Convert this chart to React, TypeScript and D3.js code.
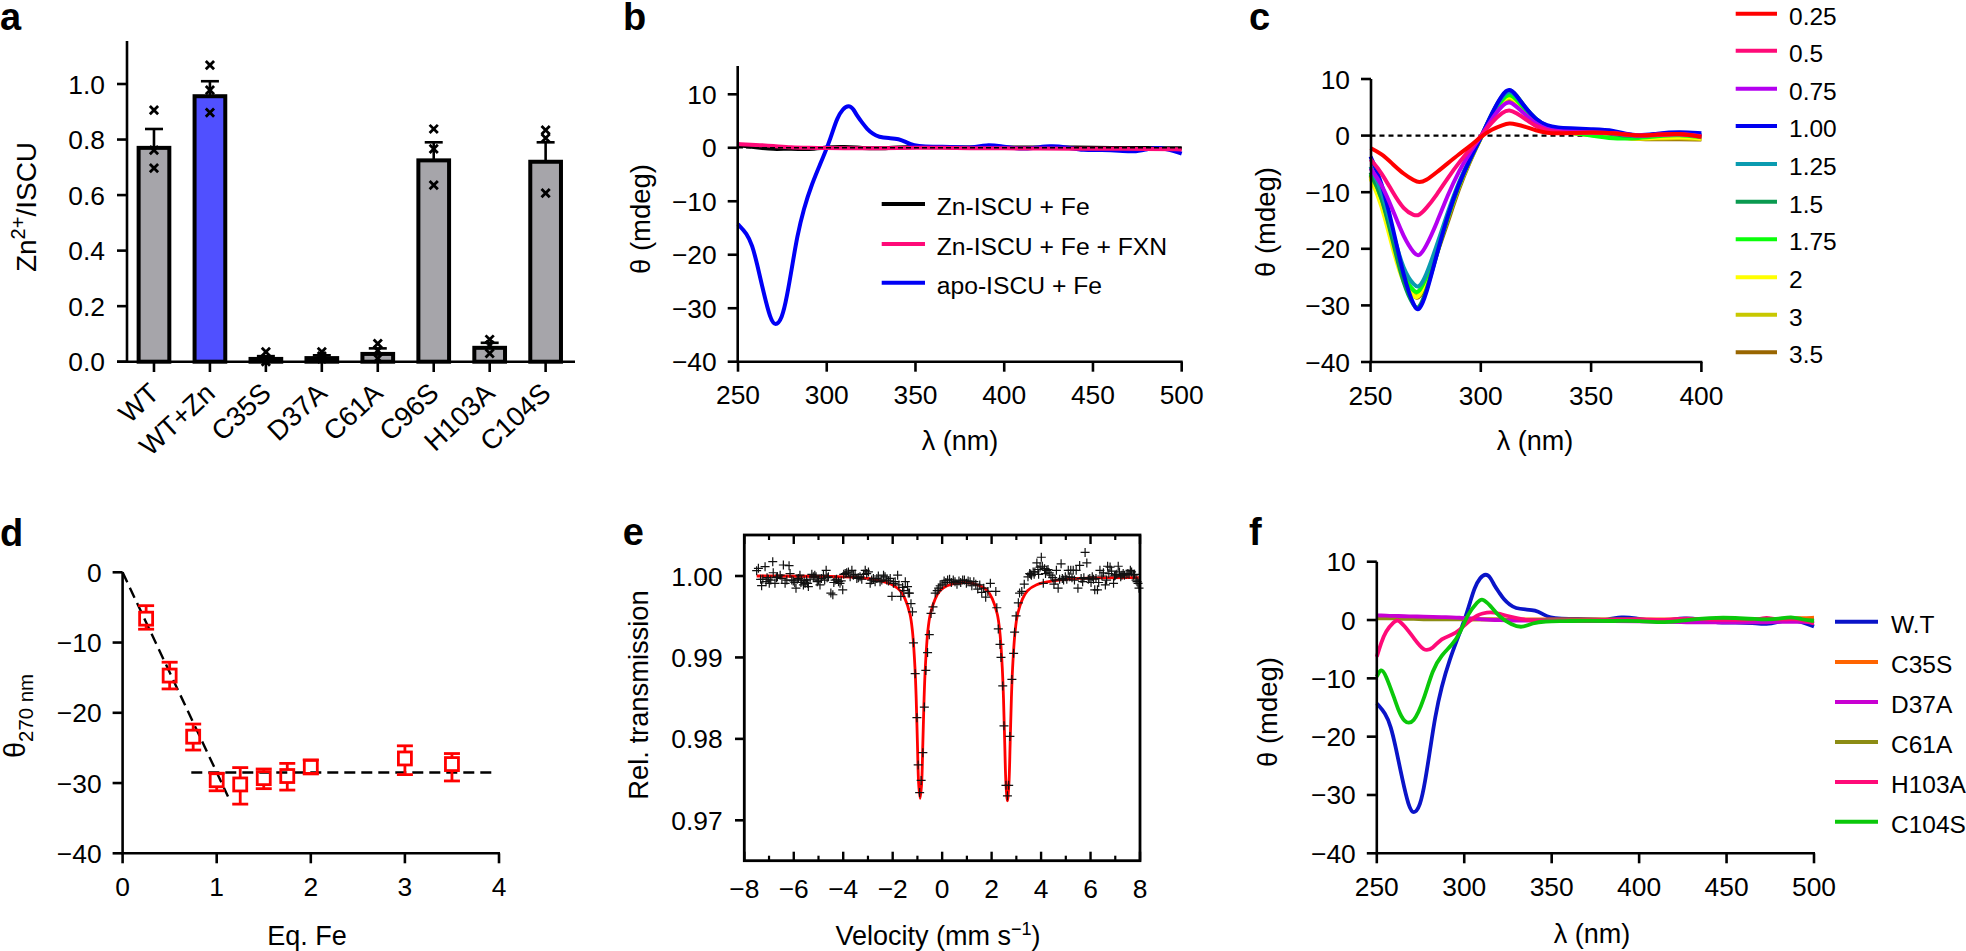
import React from "react";
import * as d3 from "d3";

// ---------- panel a ----------
const mutants = ["WT", "WT+Zn", "C35S", "D37A", "C61A", "C96S", "H103A", "C104S"];
const zincRatio = [0.77, 0.956, 0.01, 0.013, 0.028, 0.725, 0.05, 0.72];
const zincError = [0.068, 0.054, 0.01, 0.01, 0.02, 0.065, 0.018, 0.07];
const zincPoints = [
  [0.906, 0.762, 0.697],
  [1.068, 0.978, 0.897],
  [0.035, 0.01, 0.0],
  [0.035, 0.02, 0.01],
  [0.065, 0.04, 0.012],
  [0.838, 0.766, 0.636],
  [0.08, 0.06, 0.03],
  [0.834, 0.805, 0.607],
];
const zincTicks = [0, 0.2, 0.4, 0.6, 0.8, 1.0];

// ---------- panel b ----------
const wlApo = [250,255,258,260.7,264.5,268.2,271,274.8,277.6,280.5,283.3,287,291.7,296.4,301,303.5,305.8,309,312.4,315,317,320,322.7,326,329.3,335,340.6,345,349,355,365,375,382,390,398,407,416,426,435,444.6,455,465,473,480,486,493,500];
const apoIscuFe = [-14.3,-16,-18.2,-21.6,-27.2,-32,-33.4,-32,-27.8,-22.2,-16.6,-11.4,-6.7,-3,0.7,3.2,5.5,7.3,8,7.3,6,4.7,3.5,2.6,2,1.8,1.7,1,0.4,0.2,0.2,0.1,0,0.6,0.3,-0.2,-0.1,0.4,0.1,-0.5,-0.4,-0.5,-0.8,-0.3,0.1,-0.3,-1.1];
const wlFlat = [250,260,270,280,290,300,310,320,330,340,350,365,380,400,420,440,460,480,500];
const znIscuFe = [0.5,0.1,-0.3,-0.1,-0.35,0.1,0.2,-0.05,-0.15,0.1,0.2,0.1,0.0,0.1,0.0,0.1,-0.1,0.0,-0.1];
const znIscuFeFxn = [0.7,0.55,0.35,0.05,0.0,-0.05,-0.1,-0.1,-0.1,-0.05,0.0,0.0,-0.1,-0.1,-0.15,-0.2,-0.2,-0.2,-0.3];
const panelBNames = ["Zn-ISCU + Fe", "Zn-ISCU + Fe + FXN", "apo-ISCU + Fe"];
const panelBColors = ["#000000", "#ff0a78", "#0000f5"];

// ---------- panel c ----------
const wlC = [250,255,260,265,270,272,275,280,285,290,295,300,305,310,313,316,320,325,330,335,340,350,360,370,380,390,400];
const eq025 = [-2.2,-3.2,-5,-6.8,-8,-8.3,-8,-6.5,-4.9,-3.3,-1.9,-0.2,1.1,1.9,2.2,2,1.6,0.9,0.45,0.4,0.45,0.6,0.5,-0.1,0.2,0.4,-0.2];
const eq05 = [-4.2,-6.5,-10,-13.1,-14.2,-14.1,-13,-10.5,-7.5,-4.8,-2.5,-0.1,2.4,4.2,4.6,4,3,1.6,0.9,0.6,0.5,0.5,0.5,-0.1,0.1,0.3,-0.2];
const eq075 = [-5.8,-8.5,-13,-18,-21,-21.4,-19.8,-15.5,-10.5,-6.3,-3,-0.2,3,5.5,6.1,5.2,3.8,2,1.1,0.8,0.7,0.6,0.5,-0.1,0.2,0.4,-0.1];
const eq100 = [-3.7,-8,-16,-25,-30.6,-31,-28.5,-21,-14,-8.5,-4.2,-0.4,4,7.5,8.4,7.2,5,2.8,1.7,1.4,1.3,1.1,1,-0.2,0.4,0.7,0.4];
const eq125 = [-5.5,-9.5,-17,-24,-26.6,-26.9,-25,-19.5,-13.5,-8.2,-4,-0.4,3.8,7.1,8,7,5,2.7,1.5,1.1,1,0.7,0.5,-0.2,0.3,0.4,0];
const eq150 = [-6.5,-10.5,-18.5,-26.5,-30.5,-30.6,-28,-21,-14.5,-8.8,-4.3,-0.4,4,7.3,8.3,7.3,5,2.8,1.6,1.2,1,0.6,0.3,-0.3,0.3,0.5,0];
const eq175 = [-6.8,-10.5,-18,-25,-27.8,-27.7,-25.5,-20,-14,-8.5,-4.2,-0.4,3.6,6.6,7.4,6.5,4.6,2.4,1.3,0.9,0.6,0,-0.6,-0.5,-0.1,0.2,-0.3];
const eq200 = [-7.6,-12,-20,-26.5,-28.7,-28.6,-26,-20.5,-14.5,-8.8,-4.3,-0.4,3.5,6.3,7.1,6.2,4.4,2.3,1.2,0.8,0.5,0.1,-0.2,-0.6,-0.4,-0.2,-0.5];
const eq300 = [-7.2,-11.5,-19.5,-26,-28.3,-28.2,-26,-20.5,-14.8,-9,-4.4,-0.4,3.4,6.1,6.9,6,4.2,2.2,1.1,0.8,0.5,0.1,-0.2,-0.6,-0.5,-0.4,-0.6];
const eq350 = [-7,-11,-19,-25.8,-28.7,-28.8,-26.6,-21,-15.4,-9.4,-4.6,-0.4,3.3,5.9,6.7,5.8,4.1,2.1,1.1,0.7,0.5,0.1,-0.2,-0.6,-0.7,-0.6,-0.7];
const panelCNames = ["0.25", "0.5", "0.75", "1.00", "1.25", "1.5", "1.75", "2", "3", "3.5"];
const panelCColors = ["#ff0000", "#ff0a78", "#b400f0", "#0000f0", "#0a9bb0", "#0a9a50", "#0aff0a", "#ffff00", "#c8c800", "#996600"];
const panelCSeries = [eq025, eq05, eq075, eq100, eq125, eq150, eq175, eq200, eq300, eq350];

// ---------- panel d ----------
const eqFe = [0.25, 0.5, 0.75, 1, 1.25, 1.5, 1.75, 2, 3, 3.5];
const theta270 = [-6.6, -14.7, -23.4, -29.6, -30.2, -29.3, -29, -27.7, -26.5, -27.3];
const theta270Top = [-4.75, -12.8, -21.6, -28.6, -27.8, -28, -27.2, -26.7, -24.7, -25.8];
const theta270Bottom = [-8.1, -16.6, -25.3, -31.1, -33, -30.8, -31, -28.7, -28.8, -29.7];
const slopeFitX = [0, 1.12];
const slopeFitY = [0, -31.9];
const plateauFitX = [0.73, 3.98];
const plateauFitY = [-28.5, -28.5];

// ---------- panel e ----------
const velocityData: number[][] = [
  [-7.5,1.00066],[-7.43,1.00094],[-7.34,0.99959],[-7.3,0.99881],[-7.16,1.00115],[-7.12,0.9993],[-7.03,0.9996],[-6.99,0.9991],[-6.85,1.00176],[-6.83,1.0004],
  [-6.76,0.9991],[-6.66,0.9999],[-6.55,1.0001],[-6.42,1.00135],[-6.35,0.9991],[-6.19,1.00127],[-6.15,1.0003],[-6.08,0.9995],[-5.91,0.9985],[-5.81,0.9997],
  [-5.75,1.0001],[-5.68,0.9995],[-5.61,0.9989],[-5.54,0.9991],[-5.48,0.9995],[-5.41,0.9987],[-5.27,1.0002],[-5.21,0.9999],[-5.1,0.9999],[-5,0.9995],
  [-4.94,0.9989],[-4.8,1.0001],[-4.69,1.0007],[-4.6,0.9999],[-4.5,0.9979],[-4.42,0.9977],[-4.33,0.9995],[-4.19,0.9993],[-4.13,0.9991],[-4.02,0.9983],
  [-3.92,1.0003],[-3.79,1.0005],[-3.65,1.0007],[-3.59,1.0001],[-3.45,0.9997],[-3.32,0.9999],[-3.11,1.0007],[-2.98,1.0005],[-2.91,0.9991],[-2.78,0.9997],
  [-2.64,0.9997],[-2.51,0.9993],[-2.37,1.0001],[-2.24,0.9995],[-2.03,0.9975],[-1.97,0.9991],[-1.8,1.0001],[-1.67,0.9975],[-1.49,0.9993],[-1.4,0.9987],
  [-7.25,0.9996],[-7.08,0.9998],[-6.93,0.9995],[-6.7,0.9998],[-6.48,0.9997],[-6.28,0.9995],[-6.02,0.9994],[-5.96,0.9992],[-5.86,0.9996],[-5.71,0.9992],
  [-5.58,0.9994],[-5.44,0.9991],[-5.34,0.9996],[-5.15,1.0001],[-5.05,0.9993],[-4.88,0.9997],[-4.75,0.9995],[-4.65,0.9998],[-4.38,0.9992],[-4.27,0.9996],
  [-4.08,0.9994],[-3.98,1.0002],[-3.86,1.0004],[-3.72,0.9999],[-3.52,1.0002],[-3.39,0.9998],[-3.25,0.9996],[-3.18,1.0002],[-3.05,1.0003],[-2.85,0.9995],
  [-2.71,0.9993],[-2.58,1],[-2.44,0.9995],[-2.31,0.9999],[-2.17,0.9994],[-2.1,0.9997],[-1.9,0.9993],[-1.75,0.9989],[-1.6,0.9986],[-1.55,0.9982],
  [-1.37,0.9979],[-1.32,0.9979],[-1.26,0.9966],[-1.2,0.9956],[-1.16,0.9918],[-1.09,0.988],[-1.02,0.9826],[-0.97,0.9768],[-0.91,0.9734],[-0.85,0.9749],
  [-0.78,0.9783],[-0.72,0.9839],[-0.66,0.9884],[-0.59,0.9906],[-0.52,0.9928],[-0.45,0.9954],[-0.37,0.9962],[-0.28,0.9979],[-0.2,0.9982],[-0.14,0.9985],
  [-0.08,0.9988],[0,0.999],[0.08,0.9994],[0.15,0.9992],[0.22,0.9995],[0.3,0.9996],[0.37,0.9992],[0.45,0.9995],[0.52,0.9993],[0.6,0.999],
  [0.68,0.9994],[0.75,0.9992],[0.83,0.9995],[0.9,0.9995],[0.98,0.9991],[1.05,0.9994],[1.13,0.9993],[1.2,0.9988],[1.28,0.9993],[1.36,0.999],
  [1.44,0.9984],[1.52,0.9989],[1.6,0.998],[1.68,0.9985],[1.76,0.9974],[1.85,0.9981],[1.95,0.9991],[2.17,0.9981],[2.21,0.9961],[2.27,0.9935],
  [2.34,0.9916],[2.38,0.99],[2.45,0.9865],[2.5,0.9816],[2.58,0.9743],[2.64,0.973],[2.69,0.9743],[2.74,0.9803],[2.82,0.9873],[2.89,0.9905],
  [2.93,0.9931],[2.99,0.9951],[3.08,0.9967],[3.13,0.9979],[3.22,0.9981],[3.32,0.999],[3.47,0.9999],[3.54,1.0003],[3.61,1.0001],[3.68,1.0005],
  [3.75,1.0005],[3.83,1.0016],[3.9,1.0002],[4.01,1.0023],[4.09,0.9991],[4.14,1.0009],[4.23,1.0007],[4.33,1.0004],[4.4,1.0001],[4.52,0.999],
  [4.62,1.0007],[4.69,0.9985],[4.81,1.0015],[4.91,0.9995],[4.98,0.9999],[5.1,1.0007],[5.2,1.0007],[5.3,1.0007],[5.42,1.0007],[5.49,0.9985],
  [5.56,1.0013],[5.68,0.9993],[5.78,1.0029],[5.85,1.0016],[5.97,0.9997],[6.07,0.9999],[6.17,0.9983],[6.28,0.9983],[6.38,1.0007],[6.46,1],
  [6.6,0.9989],[6.69,1.0012],[6.79,1.0011],[6.93,0.9991],[7,1.0001],[7.12,1.0012],[7.22,0.9999],[7.37,1.0001],[7.51,1.0003],[7.61,1.0007],
  [7.73,1.0001],[7.84,0.9995],[7.92,0.9991],[7.96,0.9985],[3.58,1.0002],[3.72,1.0002],[3.87,1.0008],[3.96,1.0011],[4.05,1.0012],[4.18,1.0003],
  [4.28,1.0008],[4.47,0.9998],[4.57,0.9995],[4.75,0.9996],[4.86,0.9997],[5.04,0.9996],[5.14,0.9999],[5.25,0.9998],[5.35,0.9995],[5.62,0.9997],
  [5.73,0.9998],[5.91,0.9996],[6.02,0.9992],[6.12,0.9996],[6.22,0.9997],[6.33,0.9992],[6.52,1.0004],[6.65,0.9995],[6.74,1.0003],[6.85,1.0006],
  [6.97,1],[7.06,1.0002],[7.17,1.0005],[7.27,1.0001],[7.32,1.0003],[7.44,1.0002],[7.56,1.0002],[7.66,1.0005],[7.78,1.0002],[7.88,0.9993],
];
const fitVelocity = [-7.5,-4,-3,-2.5,-2,-1.7,-1.5,-1.3,-1.2,-1.1,-1.05,-1,-0.95,-0.89,-0.83,-0.78,-0.73,-0.68,-0.58,-0.48,-0.28,-0.08,0.2,0.9,1.53,1.83,2.03,2.23,2.33,2.43,2.48,2.53,2.58,2.64,2.7,2.75,2.8,2.85,2.95,3.05,3.25,3.45,3.8,4.5,5.5,7.95];
const fitTransmission = [1,0.9999,0.9997,0.9994,0.9989,0.9982,0.9972,0.9953,0.9932,0.9888,0.985,0.9795,0.9745,0.9727,0.9745,0.9795,0.985,0.9888,0.9932,0.9953,0.9972,0.9982,0.9988,0.9992,0.9988,0.9982,0.9972,0.9953,0.9932,0.9888,0.985,0.9795,0.9745,0.9724,0.9745,0.9795,0.985,0.9888,0.9932,0.9953,0.9972,0.9982,0.9989,0.9994,0.9997,0.9998];
const velocityTicks = [-8,-6,-4,-2,0,2,4,6,8];
const velocityMinorTicks = [-7,-5,-3,-1,1,3,5,7];
const transmissionTicks = [1.0, 0.99, 0.98, 0.97];

// ---------- panel f ----------
const wlMut = [250,252.5,255,260,262,265.5,271,277,282,287,293,297.6,302,308,310,315,320,327,333,339,346,357,370,385,400,415,427,440,455,470,472,480,487,493,500];
const mutC104S = [-9.7,-8.2,-9.3,-13.4,-15.2,-17.6,-17.9,-13.6,-8.4,-6,-4.3,-2.3,1.1,3.2,3.8,2.5,0.5,-0.8,-1.4,-0.5,-0.2,-0.2,-0.1,-0.2,-0.1,-0.5,0,0.4,0.4,0.1,0.1,0.2,0.6,0.1,-0.2];
const mutH103A = [-6.3,-3.9,-1.9,-0.2,0.1,-0.9,-3,-5.5,-4.9,-3.1,-2.6,-1.7,-0.3,0.9,1.1,1.4,1.1,0.5,0.1,-0.1,-0.1,-0.1,-0.1,0,0.2,-0.1,0.4,0,0,0.1,0.5,0,0.2,0.1,-0.6];
const mutC35S = [0.4,0.4,0.4,0.4,0.4,0.4,0.3,0.3,0.3,0.2,0.2,0.2,0.1,0.1,0.1,0.1,0.1,0.1,0.1,0.1,0.1,0.1,0.1,0.1,0.1,0.1,0.1,0.1,0.2,0.1,0.1,0.2,0.3,0.3,0.4];
const mutD37A = [0.8,0.78,0.75,0.7,0.7,0.65,0.6,0.6,0.55,0.5,0.45,0.4,0.3,0.2,0.1,0,0,-0.1,-0.1,-0.1,-0.1,-0.1,-0.2,-0.2,-0.2,-0.3,-0.4,-0.4,-0.4,-0.4,-0.4,-0.3,-0.3,-0.3,-0.4];
const mutC61A = [0.3,0.3,0.3,0.3,0.3,0.2,0.2,0.1,0.1,0.1,0.1,0.1,0.1,0.1,0.1,0.1,0.1,0,0,0,0,0,0,0,0,0,0,0,0,0,0,0,0,0,0];
const panelFNames = ["W.T", "C35S", "D37A", "C61A", "H103A", "C104S"];
const panelFColors = ["#0a14c8", "#ff6400", "#c800d2", "#8c8c14", "#ff0a78", "#0ac80a"];

const wavelengthTicksLong = [250, 300, 350, 400, 450, 500];
const wavelengthTicksShort = [250, 300, 350, 400];
const thetaTicks = [10, 0, -10, -20, -30, -40];
const fiveTicks = [0, -10, -20, -30, -40];
const eqTicks = [0, 1, 2, 3, 4];

// ---------- helpers ----------
const FONT = "'Liberation Sans', Arial, sans-serif";
const TICK = 26.4;
const minus = (v: string | number) => String(v).replace("-", "\u2212");

type S = d3.ScaleLinear<number, number>;

function YAxis({ x, y, ticks, fmt, top, bottom }: { x: number; y: S; ticks: number[]; fmt?: (v: number) => string; top?: number; bottom?: number }) {
  const t = ticks.map(v => y(v));
  return (
    <g>
      <line x1={x} x2={x} y1={top ?? Math.min(...t)} y2={bottom ?? Math.max(...t)} stroke="#000" strokeWidth={2.6} />
      {ticks.map(v => (
        <g key={v}>
          <line x1={x - 10} x2={x} y1={y(v)} y2={y(v)} stroke="#000" strokeWidth={2.6} />
          <text x={x - 21} y={y(v)} dy="0.36em" textAnchor="end" fontSize={TICK}>{minus(fmt ? fmt(v) : v)}</text>
        </g>
      ))}
    </g>
  );
}

function XAxis({ y, x, ticks, labelDy = 33 }: { y: number; x: S; ticks: number[]; labelDy?: number }) {
  return (
    <g>
      <line x1={x(ticks[0]) - 1} x2={x(ticks[ticks.length - 1]) + 1} y1={y} y2={y} stroke="#000" strokeWidth={2.6} />
      {ticks.map(v => (
        <g key={v}>
          <line x1={x(v)} x2={x(v)} y1={y} y2={y + 10} stroke="#000" strokeWidth={2.6} />
          <text x={x(v)} y={y + labelDy} dy="0.36em" textAnchor="middle" fontSize={TICK}>{minus(v)}</text>
        </g>
      ))}
    </g>
  );
}

function smooth(xs: number[], ys: number[], x: S, y: S) {
  return d3.line<[number, number]>().x(d => x(d[0])).y(d => y(d[1])).curve(d3.curveBasis)(d3.zip(xs, ys) as [number, number][]) || "";
}

function fitPath(xs: number[], ys: number[], x: S, y: S) {
  return d3.line<[number, number]>().x(d => x(d[0])).y(d => y(d[1])).curve(d3.curveCatmullRom.alpha(0.5))(d3.zip(xs, ys) as [number, number][]) || "";
}

function Panel({ letter, x, y }: { letter: string; x: number; y: number }) {
  return <text x={x} y={y} fontSize={38} fontWeight="bold">{letter}</text>;
}

function Legend({ names, colors, x1, x2, ys, tx, size }: { names: string[]; colors: string[]; x1: number; x2: number; ys: number[]; tx: number; size: number }) {
  return (
    <g>
      {names.map((n, i) => (
        <g key={n}>
          <line x1={x1} x2={x2} y1={ys[i]} y2={ys[i]} stroke={colors[i]} strokeWidth={4} />
          <text x={tx} y={ys[i] + 2} dy="0.36em" fontSize={size}>{n}</text>
        </g>
      ))}
    </g>
  );
}

const xMark = d3.symbol().type(d3.symbolTimes).size(46)() || "";

export default function App() {
  // a
  const yA = d3.scaleLinear().domain([0, 1]).range([361.7, 84]);
  const xA = d3.scaleBand().domain(mutants).range([126, 573.6]).paddingInner(0.38).paddingOuter(0.19);
  const cx = (m: string) => (xA(m) as number) + xA.bandwidth() / 2;
  const barW = 30.7;

  // b
  const xB = d3.scaleLinear().domain([250, 500]).range([738, 1181.7]);
  const yB = d3.scaleLinear().domain([-40, 10]).range([361.7, 94.3]);
  // c
  const xC = d3.scaleLinear().domain([250, 400]).range([1370.5, 1701.4]);
  const yC = d3.scaleLinear().domain([-40, 10]).range([362, 79]);
  // d
  const xD = d3.scaleLinear().domain([0, 4]).range([122.6, 499]);
  const yD = d3.scaleLinear().domain([-40, 0]).range([853.3, 572.3]);
  // e
  const xE = d3.scaleLinear().domain([-8, 8]).range([744.3, 1140]);
  const yE = d3.scaleLinear().domain([0.97, 1.0]).range([820.3, 576]);
  const eTop = 535, eBottom = 860.7;
  // f
  const xF = d3.scaleLinear().domain([250, 500]).range([1376.8, 1814]);
  const yF = d3.scaleLinear().domain([-40, 10]).range([853.3, 561.7]);

  const fSeries: [number[], number[], string][] = [
    [wlApo, apoIscuFe, panelFColors[0]],
    [wlMut, mutC35S, panelFColors[1]],
    [wlMut, mutC61A, panelFColors[3]],
    [wlMut, mutD37A, panelFColors[2]],
    [wlMut, mutH103A, panelFColors[4]],
    [wlMut, mutC104S, panelFColors[5]],
  ];

  return (
    <svg width={1966} height={951} viewBox="0 0 1966 951" style={{ position: "absolute", left: 0, top: 0, display: "block", background: "#fff" }} fontFamily={FONT} fill="#000">
      {/* Panel a */}
      <Panel letter="a" x={0} y={30} />
      <text transform="translate(26,207) rotate(-90)" textAnchor="middle" dy="0.36em" fontSize={28}>
        Zn<tspan fontSize={20} dy={-11}>2+</tspan><tspan dy={11}>/ISCU</tspan>
      </text>
      {mutants.map((m, i) => (
        <rect key={m} x={cx(m) - barW / 2} y={yA(zincRatio[i])} width={barW} height={yA(0) - yA(zincRatio[i])}
          fill={m === "WT+Zn" ? "#5050ff" : "#a6a5aa"} stroke="#000" strokeWidth={4} />
      ))}
      {mutants.map((m, i) => (
        <g key={m} stroke="#000" strokeWidth={2.6}>
          <line x1={cx(m)} x2={cx(m)} y1={yA(zincRatio[i])} y2={yA(zincRatio[i] + zincError[i])} />
          <line x1={cx(m) - 9} x2={cx(m) + 9} y1={yA(zincRatio[i] + zincError[i])} y2={yA(zincRatio[i] + zincError[i])} />
        </g>
      ))}
      {mutants.map((m, i) => zincPoints[i].map((p, j) => (
        <path key={m + j} d={xMark} transform={`translate(${cx(m)},${yA(p)})`} fill="none" stroke="#000" strokeWidth={2.8} />
      )))}
      <line x1={127} x2={127} y1={41} y2={361.7} stroke="#000" strokeWidth={2.6} />
      <line x1={117} x2={575} y1={361.7} y2={361.7} stroke="#000" strokeWidth={2.6} />
      {zincTicks.map(v => (
        <g key={v}>
          <line x1={117} x2={127} y1={yA(v)} y2={yA(v)} stroke="#000" strokeWidth={2.6} />
          <text x={105} y={yA(v)} dy="0.36em" textAnchor="end" fontSize={TICK}>{v.toFixed(1)}</text>
        </g>
      ))}
      {mutants.map(m => (
        <g key={m}>
          <line x1={cx(m)} x2={cx(m)} y1={361.7} y2={372} stroke="#000" strokeWidth={2.6} />
          <text transform={`translate(${cx(m)},388) rotate(-43)`} textAnchor="end" dy="0.36em" fontSize={27.5}>{m}</text>
        </g>
      ))}

      {/* Panel b */}
      <Panel letter="b" x={623} y={30} />
      <text transform="translate(640,219) rotate(-90)" textAnchor="middle" dy="0.36em" fontSize={27.5}>θ (mdeg)</text>
      <path d={smooth(wlFlat, znIscuFe, xB, yB)} fill="none" stroke={panelBColors[0]} strokeWidth={4} />
      <path d={smooth(wlApo, apoIscuFe, xB, yB)} fill="none" stroke={panelBColors[2]} strokeWidth={4} />
      <path d={smooth(wlFlat, znIscuFeFxn, xB, yB)} fill="none" stroke={panelBColors[1]} strokeWidth={4} />
      <line x1={xB(250)} x2={xB(500)} y1={yB(0)} y2={yB(0)} stroke="#000" strokeWidth={1.6} strokeDasharray="5 3" />
      <YAxis x={737.7} y={yB} ticks={thetaTicks} top={66} />
      <XAxis y={361.7} x={xB} ticks={wavelengthTicksLong} />
      <text x={960} y={440} dy="0.36em" textAnchor="middle" fontSize={27}>λ (nm)</text>
      <Legend names={panelBNames} colors={panelBColors} x1={881.7} x2={925} ys={[204, 244, 282.7]} tx={936.7} size={24.7} />

      {/* Panel c */}
      <Panel letter="c" x={1249} y={30} />
      <text transform="translate(1265,222) rotate(-90)" textAnchor="middle" dy="0.36em" fontSize={27.5}>θ (mdeg)</text>
      <line x1={xC(250)} x2={xC(350)} y1={yC(0)} y2={yC(0)} stroke="#000" strokeWidth={2.2} strokeDasharray="5 4" />
      {panelCSeries.map((s, i) => ({ s, i })).reverse().map(({ s, i }) => (
        <path key={i} d={smooth(wlC, s, xC, yC)} fill="none" stroke={panelCColors[i]} strokeWidth={4} />
      ))}
      <YAxis x={1371} y={yC} ticks={thetaTicks} />
      <XAxis y={362} x={xC} ticks={wavelengthTicksShort} />
      <text x={1535} y={440} dy="0.36em" textAnchor="middle" fontSize={27}>λ (nm)</text>
      <Legend names={panelCNames} colors={panelCColors} x1={1735.7} x2={1777} ys={[13.7, 50.7, 88.7, 126, 164, 201.7, 239.3, 277.3, 314.7, 352.3]} tx={1789} size={24.5} />

      {/* Panel d */}
      <Panel letter="d" x={0} y={546} />
      <text transform="translate(25,716) rotate(-90)" textAnchor="middle" fontSize={29}>
        θ<tspan fontSize={20.4} dy={8}>270 nm</tspan>
      </text>
      <YAxis x={122.6} y={yD} ticks={fiveTicks} />
      <XAxis y={853.3} x={xD} ticks={eqTicks} labelDy={33} />
      <text x={307} y={935} dy="0.36em" textAnchor="middle" fontSize={27}>Eq. Fe</text>
      <line x1={xD(slopeFitX[0])} x2={xD(slopeFitX[1])} y1={yD(slopeFitY[0])} y2={yD(slopeFitY[1])} stroke="#000" strokeWidth={2.4} strokeDasharray="11 6" />
      <line x1={xD(plateauFitX[0])} x2={xD(plateauFitX[1])} y1={yD(plateauFitY[0])} y2={yD(plateauFitY[1])} stroke="#000" strokeWidth={2.4} strokeDasharray="11 6" />
      {eqFe.map((q, i) => (
        <g key={q} stroke="#ff0000" strokeWidth={2.8} fill="none">
          <line x1={xD(q)} x2={xD(q)} y1={yD(theta270Top[i])} y2={yD(theta270[i]) - 6.5} />
          <line x1={xD(q)} x2={xD(q)} y1={yD(theta270[i]) + 6.5} y2={yD(theta270Bottom[i])} />
          <line x1={xD(q) - 8} x2={xD(q) + 8} y1={yD(theta270Top[i])} y2={yD(theta270Top[i])} />
          <line x1={xD(q) - 8} x2={xD(q) + 8} y1={yD(theta270Bottom[i])} y2={yD(theta270Bottom[i])} />
          <rect x={xD(q) - 6.5} y={yD(theta270[i]) - 6.5} width={13} height={13} />
        </g>
      ))}

      {/* Panel e */}
      <Panel letter="e" x={622.7} y={545} />
      <text transform="translate(638,695) rotate(-90)" textAnchor="middle" dy="0.36em" fontSize={27.3}>Rel. transmission</text>
      <path d={fitPath(fitVelocity, fitTransmission, xE, yE)} fill="none" stroke="#ff0000" strokeWidth={2.8} />
      {velocityData.map((d, i) => (
        <path key={i} d="M-4.5,0H4.5M0,-4.5V4.5" transform={`translate(${xE(d[0])},${yE(d[1])})`} stroke="#111" strokeWidth={1.2} fill="none" />
      ))}
      <rect x={744.3} y={eTop} width={395.7} height={eBottom - eTop} fill="none" stroke="#000" strokeWidth={2.8} />
      {transmissionTicks.map(v => (
        <g key={v}>
          <line x1={735} x2={744.3} y1={yE(v)} y2={yE(v)} stroke="#000" strokeWidth={2.6} />
          <text x={722.7} y={yE(v)} dy="0.36em" textAnchor="end" fontSize={TICK}>{v.toFixed(2)}</text>
        </g>
      ))}
      {velocityTicks.map(v => (
        <g key={v}>
          <line x1={xE(v)} x2={xE(v)} y1={eBottom} y2={eBottom - 9} stroke="#000" strokeWidth={2.4} />
          <line x1={xE(v)} x2={xE(v)} y1={eTop} y2={eTop + 9} stroke="#000" strokeWidth={2.4} />
          <text x={xE(v)} y={888} dy="0.36em" textAnchor="middle" fontSize={TICK}>{minus(v)}</text>
        </g>
      ))}
      {velocityMinorTicks.map(v => (
        <g key={v}>
          <line x1={xE(v)} x2={xE(v)} y1={eBottom} y2={eBottom - 5} stroke="#000" strokeWidth={2.2} />
          <line x1={xE(v)} x2={xE(v)} y1={eTop} y2={eTop + 5} stroke="#000" strokeWidth={2.2} />
        </g>
      ))}
      <text x={938} y={935} dy="0.36em" textAnchor="middle" fontSize={27}>
        Velocity (mm s<tspan fontSize={18} dy={-10}>{"\u22121"}</tspan><tspan dy={10}>)</tspan>
      </text>

      {/* Panel f */}
      <Panel letter="f" x={1249} y={545} />
      <text transform="translate(1267,712) rotate(-90)" textAnchor="middle" dy="0.36em" fontSize={27.5}>θ (mdeg)</text>
      {fSeries.map(([xs, ys, c], i) => (
        <path key={i} d={smooth(xs, ys, xF, yF)} fill="none" stroke={c} strokeWidth={3.8} />
      ))}
      <YAxis x={1376.8} y={yF} ticks={thetaTicks} />
      <XAxis y={853.3} x={xF} ticks={wavelengthTicksLong} labelDy={33} />
      <text x={1592} y={933} dy="0.36em" textAnchor="middle" fontSize={27}>λ (nm)</text>
      <Legend names={panelFNames} colors={panelFColors} x1={1835} x2={1878} ys={[621.7, 662, 702, 742, 782, 821.7]} tx={1891} size={24.5} />
    </svg>
  );
}
